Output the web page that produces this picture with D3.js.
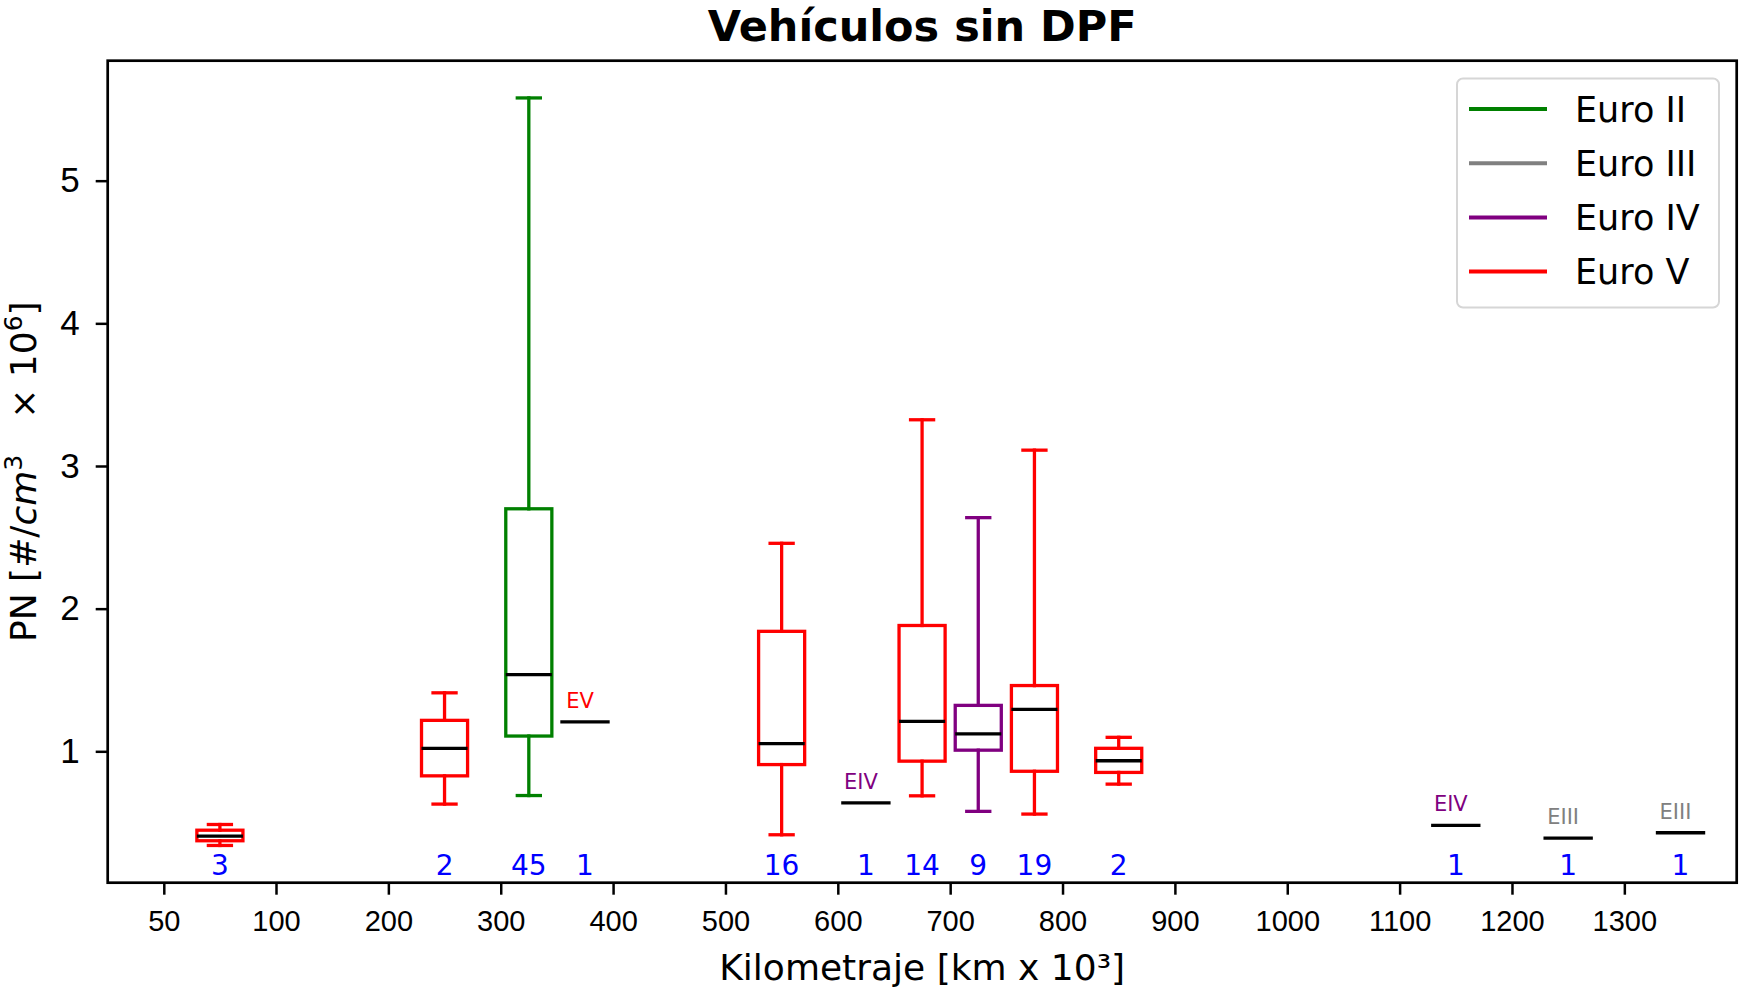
<!DOCTYPE html>
<html lang="es">
<head>
  <meta charset="UTF-8">
  <title>Vehículos sin DPF</title>
  <style>
  body { margin: 0; background: #fff; }
  svg { font-family: "DejaVu Sans", sans-serif; }
  </style>
</head>
<body>
  <script src="https://d3js.org/d3.v7.min.js"></script>
  <script>
// one entry per group of vehicles, x in km x 10^3
const positions = [75, 250, 325, 375, 550, 625, 675, 725, 775, 850, 1150, 1250, 1350]
const norms = ["Euro V", "Euro V", "Euro II", "Euro V", "Euro V", "Euro IV", "Euro V", "Euro IV", "Euro V", "Euro V", "Euro IV", "Euro III", "Euro III"]
const counts = [3, 2, 45, 1, 16, 1, 14, 9, 19, 2, 1, 1, 1]
const whiskerLow = [0.34, 0.63, 0.69, null, 0.415, null, 0.688, 0.579, 0.56, 0.77, null, null, null]
const q1 = [0.373, 0.828, 1.107, null, 0.907, null, 0.931, 1.008, 0.86, 0.852, null, null, null]
const medians = [0.405, 1.02, 1.537, 1.207, 1.054, 0.639, 1.21, 1.122, 1.294, 0.934, 0.481, 0.392, 0.429]
const q3 = [0.447, 1.217, 2.70, null, 1.841, null, 1.882, 1.322, 1.461, 1.021, null, null, null]
const whiskerHigh = [0.487, 1.41, 5.58, null, 2.458, null, 3.324, 2.638, 3.111, 1.098, null, null, null]

const xTicks = [50, 100, 200, 300, 400, 500, 600, 700, 800, 900, 1000, 1100, 1200, 1300]
const yTicks = [1, 2, 3, 4, 5]
const legendNames = ["Euro II", "Euro III", "Euro IV", "Euro V"]
const legendColors = ["#008000", "#808080", "#800080", "#ff0000"]

const width = 1742
const height = 994
const margin = ({top: 60.7, right: 5.3, bottom: 111.3, left: 107.7})

const color = d3.scaleOrdinal().domain(legendNames).range(legendColors)

// the 50 -> 100 step is drawn as wide as the 100 km steps
const x = d3.scaleLinear()
  .domain([25, 100, 1400])
  .range([margin.left, 276, width - margin.right])
const y = d3.scaleLinear()
  .domain([0.079, 5.841])
  .range([height - margin.bottom, margin.top])

const groups = positions.map((p, i) => ({
  pos: p, norm: norms[i], n: counts[i],
  lo: whiskerLow[i], q1: q1[i], med: medians[i], q3: q3[i], hi: whiskerHigh[i]
}))

const bw = (x(200) - x(100)) * 0.41
const lw = 3.3

const svg = d3.select("body").append("svg")
  .attr("width", width)
  .attr("height", height)

// axes
svg.append("g")
  .attr("transform", `translate(0,${height - margin.bottom})`)
  .call(d3.axisBottom(x).tickValues(xTicks).tickFormat(d3.format("d")).tickSize(12).tickPadding(16))
  .call(g => g.select(".domain").remove())
  .call(g => g.selectAll(".tick line").attr("stroke-width", 2.5))
  .call(g => g.selectAll(".tick text").style("font-size", "29px").attr("fill", "#000"))

svg.append("g")
  .attr("transform", `translate(${margin.left},0)`)
  .call(d3.axisLeft(y).tickValues(yTicks).tickFormat(d3.format("d")).tickSize(12).tickPadding(16))
  .call(g => g.select(".domain").remove())
  .call(g => g.selectAll(".tick line").attr("stroke-width", 2.5))
  .call(g => g.selectAll(".tick text").style("font-size", "35px").attr("fill", "#000"))

// boxes
const multi = groups.filter(d => d.n > 1)
const single = groups.filter(d => d.n == 1)

const box = svg.append("g")
  .attr("fill", "none")
  .attr("stroke-width", lw)
  .attr("stroke-linecap", "square")
  .selectAll("g")
  .data(multi)
  .join("g")
    .attr("stroke", d => color(d.norm))

box.append("line")
  .attr("x1", d => x(d.pos)).attr("x2", d => x(d.pos))
  .attr("y1", d => y(d.q3)).attr("y2", d => y(d.hi))
box.append("line")
  .attr("x1", d => x(d.pos)).attr("x2", d => x(d.pos))
  .attr("y1", d => y(d.q1)).attr("y2", d => y(d.lo))
box.append("line")
  .attr("x1", d => x(d.pos) - bw / 4).attr("x2", d => x(d.pos) + bw / 4)
  .attr("y1", d => y(d.hi)).attr("y2", d => y(d.hi))
box.append("line")
  .attr("x1", d => x(d.pos) - bw / 4).attr("x2", d => x(d.pos) + bw / 4)
  .attr("y1", d => y(d.lo)).attr("y2", d => y(d.lo))
box.append("rect")
  .attr("x", d => x(d.pos) - bw / 2)
  .attr("y", d => y(d.q3))
  .attr("width", bw)
  .attr("height", d => y(d.q1) - y(d.q3))
  .attr("stroke-linecap", null)
box.append("line")
  .attr("stroke", "#000")
  .attr("stroke-linecap", "butt")
  .attr("x1", d => x(d.pos) - bw / 2).attr("x2", d => x(d.pos) + bw / 2)
  .attr("y1", d => y(d.med)).attr("y2", d => y(d.med))

// groups of only one vehicle: just a line and the norm
svg.append("g")
  .selectAll("line")
  .data(single)
  .join("line")
    .attr("stroke", "#000")
    .attr("stroke-width", lw)
    .attr("stroke-linecap", "square")
    .attr("x1", d => x(d.pos) - bw / 2).attr("x2", d => x(d.pos) + bw / 2)
    .attr("y1", d => y(d.med)).attr("y2", d => y(d.med))

svg.append("g")
  .selectAll("text")
  .data(single)
  .join("text")
    .attr("x", d => x(d.pos) - 5)
    .attr("y", d => y(d.med) - 14)
    .attr("text-anchor", "middle")
    .attr("fill", d => color(d.norm))
    .style("font-size", "21px")
    .text(d => d.norm.replace("Euro ", "E"))

// number of vehicles
svg.append("g")
  .selectAll("text")
  .data(groups)
  .join("text")
    .attr("x", d => x(d.pos))
    .attr("y", height - margin.bottom - 8)
    .attr("text-anchor", "middle")
    .attr("fill", "#0000ff")
    .style("font-size", "28px")
    .text(d => d.n)

// frame
svg.append("rect")
  .attr("x", margin.left)
  .attr("y", margin.top)
  .attr("width", width - margin.left - margin.right)
  .attr("height", height - margin.top - margin.bottom)
  .attr("fill", "none")
  .attr("stroke", "#000")
  .attr("stroke-width", 2.7)

// legend
const legend = svg.append("g")
legend.append("rect")
  .attr("x", 1457).attr("y", 78.5)
  .attr("width", 262).attr("height", 229)
  .attr("rx", 6)
  .attr("fill", "#fff")
  .attr("stroke", "#d6d6d6")
  .attr("stroke-width", 2)
const item = legend.selectAll("g")
  .data(legendNames)
  .join("g")
    .attr("transform", (d, i) => `translate(1469,${109 + i * 54.2})`)
item.append("line")
  .attr("x2", 78)
  .attr("stroke", d => color(d))
  .attr("stroke-width", 4)
item.append("text")
  .attr("x", 106)
  .attr("dy", "0.36em")
  .style("font-size", "35px")
  .text(d => d)

// titles
svg.append("text")
  .attr("x", (margin.left + width - margin.right) / 2)
  .attr("y", 41)
  .attr("text-anchor", "middle")
  .style("font-size", "43px")
  .style("font-weight", "bold")
  .text("Vehículos sin DPF")

svg.append("text")
  .attr("x", (margin.left + width - margin.right) / 2)
  .attr("y", 980)
  .attr("text-anchor", "middle")
  .style("font-size", "36px")
  .text("Kilometraje [km x 10³]")

const ylab = svg.append("text")
  .attr("transform", `translate(36,${(margin.top + height - margin.bottom) / 2}) rotate(-90)`)
  .attr("text-anchor", "middle")
  .style("font-size", "36px")
ylab.append("tspan").text("PN [#/")
ylab.append("tspan").style("font-style", "italic").text("cm")
ylab.append("tspan").attr("dy", -14).style("font-size", "25px").text("3")
ylab.append("tspan").attr("dy", 14).attr("dx", 36).text("× 10")
ylab.append("tspan").attr("dy", -14).style("font-size", "25px").text("6")
ylab.append("tspan").attr("dy", 14).text("]")
  </script>
</body>
</html>
